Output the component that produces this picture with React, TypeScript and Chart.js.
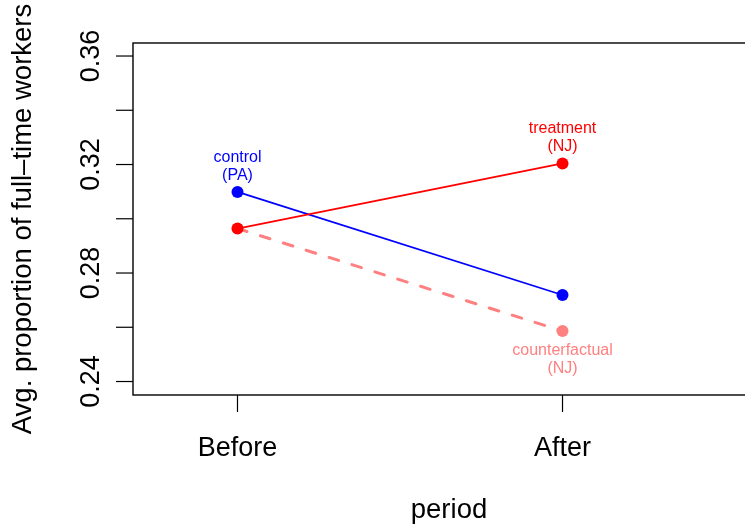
import React, { useEffect, useRef } from "react";
import { Chart, registerables } from "chart.js";

Chart.register(...registerables);

// ---- data ----
const periods = ["Before", "After"];
const periodX = [1, 2];
const controlPA = [0.3099, 0.2719];
const treatmentNJ = [0.2964, 0.3204];
const counterfactualNJ = [0.2964, 0.2586];
const yTicks = [0.24, 0.26, 0.28, 0.3, 0.32, 0.34, 0.36];
const yTickLabels = ["0.24", "", "0.28", "", "0.32", "", "0.36"];
const controlLabel = ["control", "(PA)"];
const treatmentLabel = ["treatment", "(NJ)"];
const counterfactualLabel = ["counterfactual", "(NJ)"];
const yTitle = "Avg. proportion of full\u2013time workers";
const xTitle = "period";

const FONT = '"Liberation Sans", Arial, Helvetica, sans-serif';
const BLUE = "#0000FF";
const RED = "#FF0000";
const PINK = "#FF8080";

const toPoints = (vals: number[]) => vals.map((v, i) => ({ x: periodX[i], y: v }));

const decorPlugin = {
  id: "rdecor",
  afterDraw(chart: any) {
    const ctx = chart.ctx as CanvasRenderingContext2D;
    const a = chart.chartArea;
    const xs = chart.scales.x;
    const ys = chart.scales.y;
    ctx.save();
    // box
    ctx.strokeStyle = "#000";
    ctx.lineWidth = 1.4;
    ctx.strokeRect(a.left, a.top, a.right - a.left, a.bottom - a.top);

    ctx.fillStyle = "#000";
    ctx.lineWidth = 1.2;
    // y ticks
    ctx.font = `27px ${FONT}`;
    yTicks.forEach((v, i) => {
      const y = ys.getPixelForValue(v);
      ctx.beginPath();
      ctx.moveTo(a.left - 17, y);
      ctx.lineTo(a.left, y);
      ctx.stroke();
      const lab = yTickLabels[i];
      if (lab) {
        ctx.save();
        ctx.translate(99, y);
        ctx.rotate(-Math.PI / 2);
        ctx.textAlign = "center";
        ctx.textBaseline = "alphabetic";
        ctx.fillText(lab, 0, 0);
        ctx.restore();
      }
    });
    // x ticks
    periods.forEach((p, i) => {
      const x = xs.getPixelForValue(periodX[i]);
      ctx.beginPath();
      ctx.moveTo(x, a.bottom);
      ctx.lineTo(x, a.bottom + 17);
      ctx.stroke();
      ctx.textAlign = "center";
      ctx.textBaseline = "alphabetic";
      ctx.fillText(p, x, 456);
    });
    // axis titles
    ctx.font = `27.5px ${FONT}`;
    ctx.textAlign = "center";
    ctx.fillText(xTitle, (a.left + a.right) / 2, 518);
    ctx.save();
    ctx.translate(31, (a.top + a.bottom) / 2);
    ctx.rotate(-Math.PI / 2);
    ctx.fillText(yTitle, 0, 0);
    ctx.restore();

    // series labels
    ctx.font = `16px ${FONT}`;
    ctx.textAlign = "center";
    const drawLab = (lines: string[], x: number, y: number, color: string, offs: number[]) => {
      ctx.fillStyle = color;
      lines.forEach((t, k) => ctx.fillText(t, x, y + offs[k]));
    };
    drawLab(controlLabel, xs.getPixelForValue(periodX[0]), ys.getPixelForValue(controlPA[0]), BLUE, [-30.2, -12]);
    drawLab(treatmentLabel, xs.getPixelForValue(periodX[1]), ys.getPixelForValue(treatmentNJ[1]), RED, [-30.2, -12]);
    drawLab(counterfactualLabel, xs.getPixelForValue(periodX[1]), ys.getPixelForValue(counterfactualNJ[1]), PINK, [24, 42.3]);
    ctx.restore();
  },
};

export default function App() {
  const ref = useRef<HTMLCanvasElement | null>(null);
  useEffect(() => {
    if (!ref.current) return;
    const chart = new Chart(ref.current, {
      type: "line",
      data: {
        datasets: [
          {
            label: "counterfactual (NJ)",
            data: toPoints(counterfactualNJ),
            borderColor: PINK,
            backgroundColor: PINK,
            borderWidth: 3,
            borderDash: [10, 14],
            borderCapStyle: "round",
            pointRadius: [0, 6],
            pointBorderWidth: 0,
            order: 3,
          },
          {
            label: "control (PA)",
            data: toPoints(controlPA),
            borderColor: BLUE,
            backgroundColor: BLUE,
            borderWidth: 1.8,
            pointRadius: 6,
            pointBorderWidth: 0,
            order: 2,
          },
          {
            label: "treatment (NJ)",
            data: toPoints(treatmentNJ),
            borderColor: RED,
            backgroundColor: RED,
            borderWidth: 1.8,
            pointRadius: 6,
            pointBorderWidth: 0,
            order: 1,
          },
        ],
      },
      options: {
        animation: false,
        responsive: false,
        devicePixelRatio: 1,
        layout: { padding: { left: 133, top: 43, right: 15, bottom: 130 } },
        plugins: { legend: { display: false }, tooltip: { enabled: false } },
        scales: {
          x: { type: "linear", display: false, min: 0.6785, max: 2.623 },
          y: { type: "linear", display: false, min: 0.23503, max: 0.3648 },
        },
      },
      plugins: [decorPlugin],
    } as any);
    return () => chart.destroy();
  }, []);
  return (
    <div
      style={{
        position: "fixed",
        left: 0,
        top: 0,
        width: 745,
        height: 525,
        overflow: "hidden",
        background: "#fff",
      }}
    >
      <canvas ref={ref} width={780} height={525} style={{ display: "block" }} />
    </div>
  );
}
